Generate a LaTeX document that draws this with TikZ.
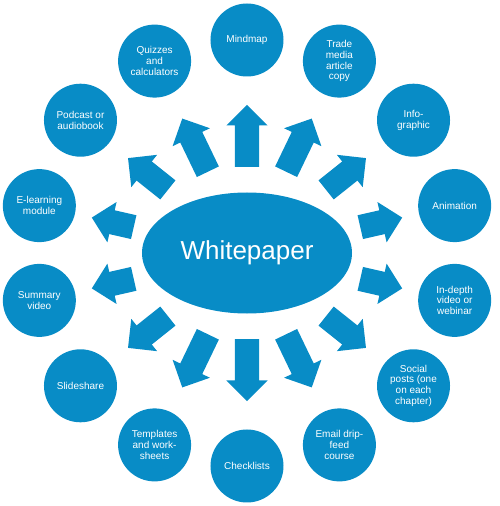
\documentclass[tikz,border=0pt]{standalone}
\usepackage{fontspec}
\setmainfont{Liberation Sans}
\usetikzlibrary{shapes.arrows,shapes.geometric}
\definecolor{wpblue}{RGB}{8,140,198}
\tikzset{
  topic/.style={circle, fill=wpblue, text=white, minimum size=73pt, inner sep=0pt,
    align=center, font=\fontsize{10}{10.8}\selectfont},
  hub/.style={ellipse, fill=wpblue, text=white, minimum width=210pt, minimum height=121pt,
    font=\fontsize{26}{30}\selectfont},
  blockarrow/.style={single arrow, fill=wpblue, inner xsep=0pt, inner ysep=12pt,
    single arrow head extend=8.5pt, anchor=tail}
}

\begin{document}
\begin{tikzpicture}[x=1pt,y=1pt]
  \useasboundingbox (-247,-253) rectangle (253,253);
  % centre
  \node[hub] (paper) at (0,0) {Whitepaper};
  % ring of formats, clockwise from the top
  \foreach \nm/\txt/\rin/\rout [count=\i from 0] in {
      mindmap/Mindmap/86/148,
      trade/{Trade\\media\\article\\copy}/90/149,
      info/{Info-\\graphic}/101/152,
      anim/Animation/116/159,
      indepth/{In-depth\\video or\\webinar}/116/159,
      social/{Social\\posts (one\\on each\\chapter)}/101/152,
      email/{Email drip-\\feed\\course}/90/149,
      check/Checklists/86/148,
      templ/{Templates\\and work-\\sheets}/90/149,
      slide/Slideshare/101/152,
      summary/{Summary\\video}/116/159,
      elearn/{E-learning\\module}/116/159,
      podcast/{Podcast or\\audiobook}/101/152,
      quiz/{Quizzes\\and\\calculators}/90/149}{
    \pgfmathsetmacro{\ang}{90-360/14*\i}
    \node[topic] (\nm) at (\ang:213) {\txt};
    \node[blockarrow, minimum height=\rout-\rin, rotate=\ang] (to\nm) at (\ang:\rin) {};
  }
\end{tikzpicture}
\end{document}
